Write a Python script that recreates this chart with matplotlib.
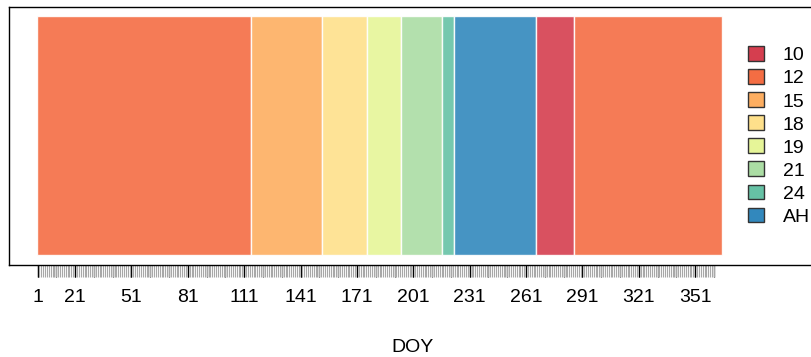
import matplotlib
matplotlib.use("Agg")
import matplotlib.pyplot as plt
from matplotlib.patches import Patch
from matplotlib.ticker import FixedLocator
import numpy as np

# Land-cover class per day of year, stored as consecutive runs
run_classes = ["12", "15", "18", "19", "21", "24", "AH", "10", "12"]
run_last_day = [114, 152, 176, 194, 216, 222, 266, 286, 365]

legend_classes = ["10", "12", "15", "18", "19", "21", "24", "AH"]
class_colors = {
    "10": "#D53E4F",
    "12": "#F46D43",
    "15": "#FDAE61",
    "18": "#FEE08B",
    "19": "#E6F598",
    "21": "#ABDDA4",
    "24": "#66C2A5",
    "AH": "#3288BD",
}

tick_labels = [1, 21, 51, 81, 111, 141, 171, 201, 231, 261, 291, 321, 351]
last_tick_day = 361

plt.rcParams["font.family"] = ["Liberation Sans", "DejaVu Sans"]

W, H = 812, 357
fig = plt.figure(figsize=(W / 100, H / 100), dpi=100)
left_px, right_px, top_px, bottom_px = 9, 818, 7, 265
ax = fig.add_axes([left_px / W, 1 - bottom_px / H,
                   (right_px - left_px) / W, (bottom_px - top_px) / H])

# bars: one block per run of identical class
starts = [1] + [d + 1 for d in run_last_day[:-1]]
for cls, s, e in zip(run_classes, starts, run_last_day):
    ax.bar(s - 0.5, 1, width=e - s + 1, align="edge",
           color=class_colors[cls], alpha=0.9,
           edgecolor="white", linewidth=1.0)

px_per_day = 1.879
x0 = 0.5 - (36.6 - left_px) / px_per_day
x1 = 365.5 + (right_px - 722.4) / px_per_day
ax.set_xlim(x0, x1)
ax.set_ylim(-0.042, 1.038)

# axis ticks: every day grey, labelled positions on the main axis
days = np.arange(1, last_tick_day + 1)
ax.xaxis.set_minor_locator(FixedLocator(days))
ax.set_xticks(tick_labels)
ax.set_xticklabels([str(t) for t in tick_labels], fontsize=14)
ax.tick_params(axis="x", which="minor", length=8.5, width=0.8,
               color="#a8a8a8", labelbottom=False)
ax.tick_params(axis="x", which="major", length=8.5, width=0.9,
               color="black", pad=9)

# black ticks every ten days
major_ten = np.arange(1, last_tick_day + 1, 10)
sec = ax.secondary_xaxis("bottom")
sec.set_xticks(major_ten)
sec.set_xticklabels([])
sec.tick_params(length=8.5, width=0.9, color="black")
sec.spines["bottom"].set_visible(False)

ax.set_yticks([])
for sp in ax.spines.values():
    sp.set_linewidth(1.0)
    sp.set_color("black")
ax.spines["right"].set_visible(False)

fig.text(413 / W, 1 - 348 / H, "DOY", ha="center", va="center", fontsize=14)

handles = [Patch(facecolor=class_colors[c], edgecolor="#333333", linewidth=1.0)
           for c in legend_classes]
leg = ax.legend(handles, legend_classes, loc="center left",
                bbox_to_anchor=((748 - left_px) / (right_px - left_px), 0.5),
                frameon=False, fontsize=14, handlelength=0.8,
                handleheight=0.8, handletextpad=1.0, labelspacing=0.25,
                borderpad=0, borderaxespad=0)

fig.savefig("out.png", dpi=100)
